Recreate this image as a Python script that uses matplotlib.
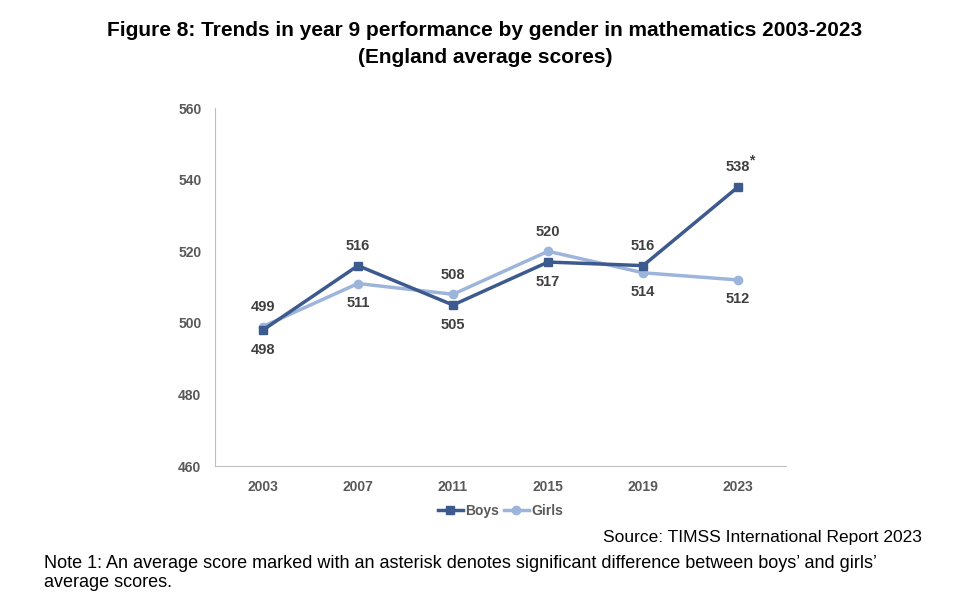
import matplotlib.pyplot as plt

years = ["2003", "2007", "2011", "2015", "2019", "2023"]
boys = [498, 516, 505, 517, 516, 538]
girls = [499, 511, 508, 520, 514, 512]
boys_lbl = ["498", "516", "505", "517", "516", "538"]
girls_lbl = ["499", "511", "508", "520", "514", "512"]
boys_pos = ["below", "above", "below", "below", "above", "above"]
girls_pos = ["above", "below", "above", "above", "below", "below"]

plt.rcParams['font.family'] = ['Liberation Sans', 'DejaVu Sans']

fig = plt.figure(figsize=(9.7, 6.07), dpi=100)
ax = fig.add_axes([0.222, 0.232, 0.588, 0.59])

x = list(range(len(years)))
ax.plot(x, boys, color='#3C5A8E', lw=2.5, marker='s', ms=6, label='Boys', zorder=3)
ax.plot(x, girls, color='#9DB5DA', lw=2.5, marker='o', ms=6, label='Girls', zorder=2)

for xs, vals, lbls, pos in [(x, boys, boys_lbl, boys_pos), (x, girls, girls_lbl, girls_pos)]:
    for i, v, t, p in zip(xs, vals, lbls, pos):
        dy = 9 if p == "above" else -9
        ax.annotate(t, (i, v), xytext=(0, dy), textcoords='offset points',
                    ha='center', va='bottom' if p == "above" else 'top',
                    fontsize=10.5, fontweight='bold', color='#404040')
ax.annotate("*", (5, 538), xytext=(9.5, 14), textcoords='offset points',
            ha='center', va='bottom', fontsize=10, fontweight='bold', color='#404040')

ax.set_xlim(-0.5, 5.5)
ax.set_ylim(460, 560)
ax.set_yticks(range(460, 561, 20))
ax.set_xticks(x)
ax.set_xticklabels(years)
for lab in ax.get_xticklabels() + ax.get_yticklabels():
    lab.set_fontweight('bold')
    lab.set_color('#595959')
    lab.set_fontsize(10)
ax.tick_params(length=0, pad=10)
for s in ['top', 'right']:
    ax.spines[s].set_visible(False)
for s in ['left', 'bottom']:
    ax.spines[s].set_color('#BFBFBF')

leg = ax.legend(loc='upper center', bbox_to_anchor=(0.5, -0.07), ncol=2, frameon=False,
                handlelength=1.8, columnspacing=0.3, handletextpad=0.2,
                prop={'weight': 'bold', 'size': 10})
for t in leg.get_texts():
    t.set_color('#595959')

fig.text(0.5, 0.965, "Figure 8: Trends in year 9 performance by gender in mathematics 2003-2023\n(England average scores)",
         ha='center', va='top', fontsize=15, fontweight='bold', linespacing=1.5)
fig.text(0.95, 0.115, "Source: TIMSS International Report 2023", ha='right', va='center', fontsize=12.5)
fig.text(0.045, 0.056, "Note 1: An average score marked with an asterisk denotes significant difference between boys’ and girls’\naverage scores.",
         ha='left', va='center', fontsize=13, linespacing=1.15)

fig.savefig("out.png", dpi=100)
